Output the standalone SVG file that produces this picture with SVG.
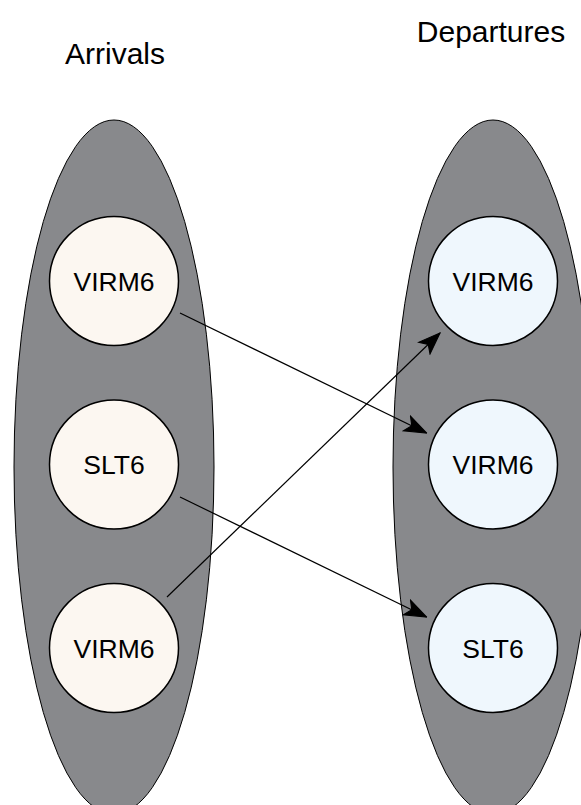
<svg xmlns="http://www.w3.org/2000/svg" width="581" height="805" viewBox="0 0 581 805">
<style>
.grp{fill:#88898c;stroke:#000;stroke-width:1}
.arr{fill:#fcf7f1;stroke:#000;stroke-width:1.5}
.dep{fill:#eff7fd;stroke:#000;stroke-width:1.5}
.lbl{font-family:"Liberation Sans",Arial,sans-serif;font-size:26.5px;fill:#000;text-anchor:middle}
.ttl{font-family:"Liberation Sans",Arial,sans-serif;font-size:30px;fill:#000;text-anchor:middle}
.edge{fill:none;stroke:#000;stroke-width:1.2}
</style>
<defs>
<marker id="ah" markerUnits="userSpaceOnUse" markerWidth="24" markerHeight="20" viewBox="-21 -9 22 18" refX="0" refY="0" orient="auto">
<path d="M0,0 L-20,-7.5 L-15,0 L-20,7.5 Z" fill="#000" stroke="#000" stroke-width="1"/>
</marker>
</defs>
<rect width="581" height="805" fill="#fff"/>
<g id="arrivals-group">
<ellipse class="grp" cx="114" cy="467" rx="100" ry="347"/>
<text class="ttl" x="115" y="64">Arrivals</text>
</g>
<g id="departures-group">
<ellipse class="grp" cx="493" cy="467" rx="100" ry="347"/>
<text class="ttl" x="491" y="41.5">Departures</text>
</g>
<g id="a1"><circle class="arr" cx="114" cy="281" r="64.5"/><text class="lbl" x="114" y="290.5">VIRM6</text></g>
<g id="a2"><circle class="arr" cx="114" cy="464.5" r="64.5"/><text class="lbl" x="114" y="474">SLT6</text></g>
<g id="a3"><circle class="arr" cx="114" cy="648" r="64.5"/><text class="lbl" x="114" y="657.5">VIRM6</text></g>
<g id="d1"><circle class="dep" cx="493" cy="281" r="64.5"/><text class="lbl" x="493" y="290.5">VIRM6</text></g>
<g id="d2"><circle class="dep" cx="493" cy="464.5" r="64.5"/><text class="lbl" x="493" y="474">VIRM6</text></g>
<g id="d3"><circle class="dep" cx="493" cy="648" r="64.5"/><text class="lbl" x="493" y="657.5">SLT6</text></g>
<g id="connectors">
<line class="edge" x1="180" y1="313" x2="426.5" y2="433" marker-end="url(#ah)"/>
<line class="edge" x1="180" y1="497" x2="426.5" y2="617" marker-end="url(#ah)"/>
<line class="edge" x1="167" y1="597" x2="440" y2="333" marker-end="url(#ah)"/>
</g>
</svg>
